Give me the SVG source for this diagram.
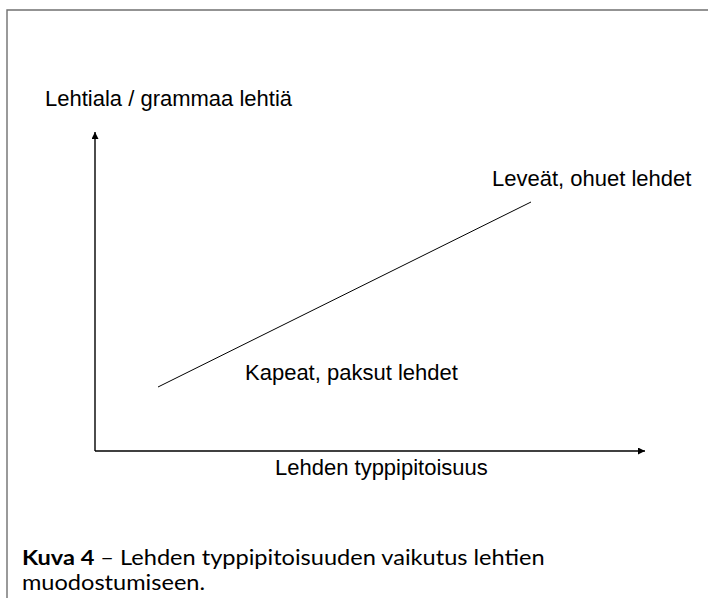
<svg xmlns="http://www.w3.org/2000/svg" width="708" height="598" viewBox="0 0 708 598">
<defs>
<marker id="arr" viewBox="0 0 10 10" refX="10" refY="5" markerWidth="8" markerHeight="7" markerUnits="userSpaceOnUse" orient="auto">
<path d="M0,0 L10,5 L0,10 z" fill="#000"/>
</marker>
<style>
.lbl{font-family:"Liberation Sans",Arial,sans-serif;font-size:22px;fill:#000}
.cap{font-family:"Lato","Open Sans",sans-serif;font-size:20.5px;fill:#000}
.ax{stroke:#000;stroke-width:1.4;fill:none}
</style>
</defs>
<rect width="708" height="598" fill="#fff"/>
<path d="M7,600 V10 H710" fill="none" stroke="#707070" stroke-width="1.4"/>
<g id="connectors">
<line class="ax" x1="95" y1="451" x2="95" y2="132" marker-end="url(#arr)"/>
<line class="ax" x1="95" y1="451" x2="645" y2="451" marker-end="url(#arr)"/>
<line x1="158" y1="387" x2="531" y2="202" stroke="#000" stroke-width="1"/>
</g>
<g id="yLabel"><text class="lbl" x="45" y="106">Lehtiala / grammaa lehtiä</text></g>
<g id="xLabel"><text class="lbl" x="275" y="475">Lehden typpipitoisuus</text></g>
<g id="high"><text class="lbl" x="492" y="186">Leveät, ohuet lehdet</text></g>
<g id="low"><text class="lbl" x="245" y="380">Kapeat, paksut lehdet</text></g>
<g id="caption" transform="translate(22,0) scale(1.15,1) translate(-22,0)">
<text class="cap" x="22" y="565"><tspan font-weight="bold">Kuva 4</tspan> – Lehden typpipitoisuuden vaikutus lehtien</text>
<text class="cap" x="22" y="590">muodostumiseen.</text>
</g>
</svg>
